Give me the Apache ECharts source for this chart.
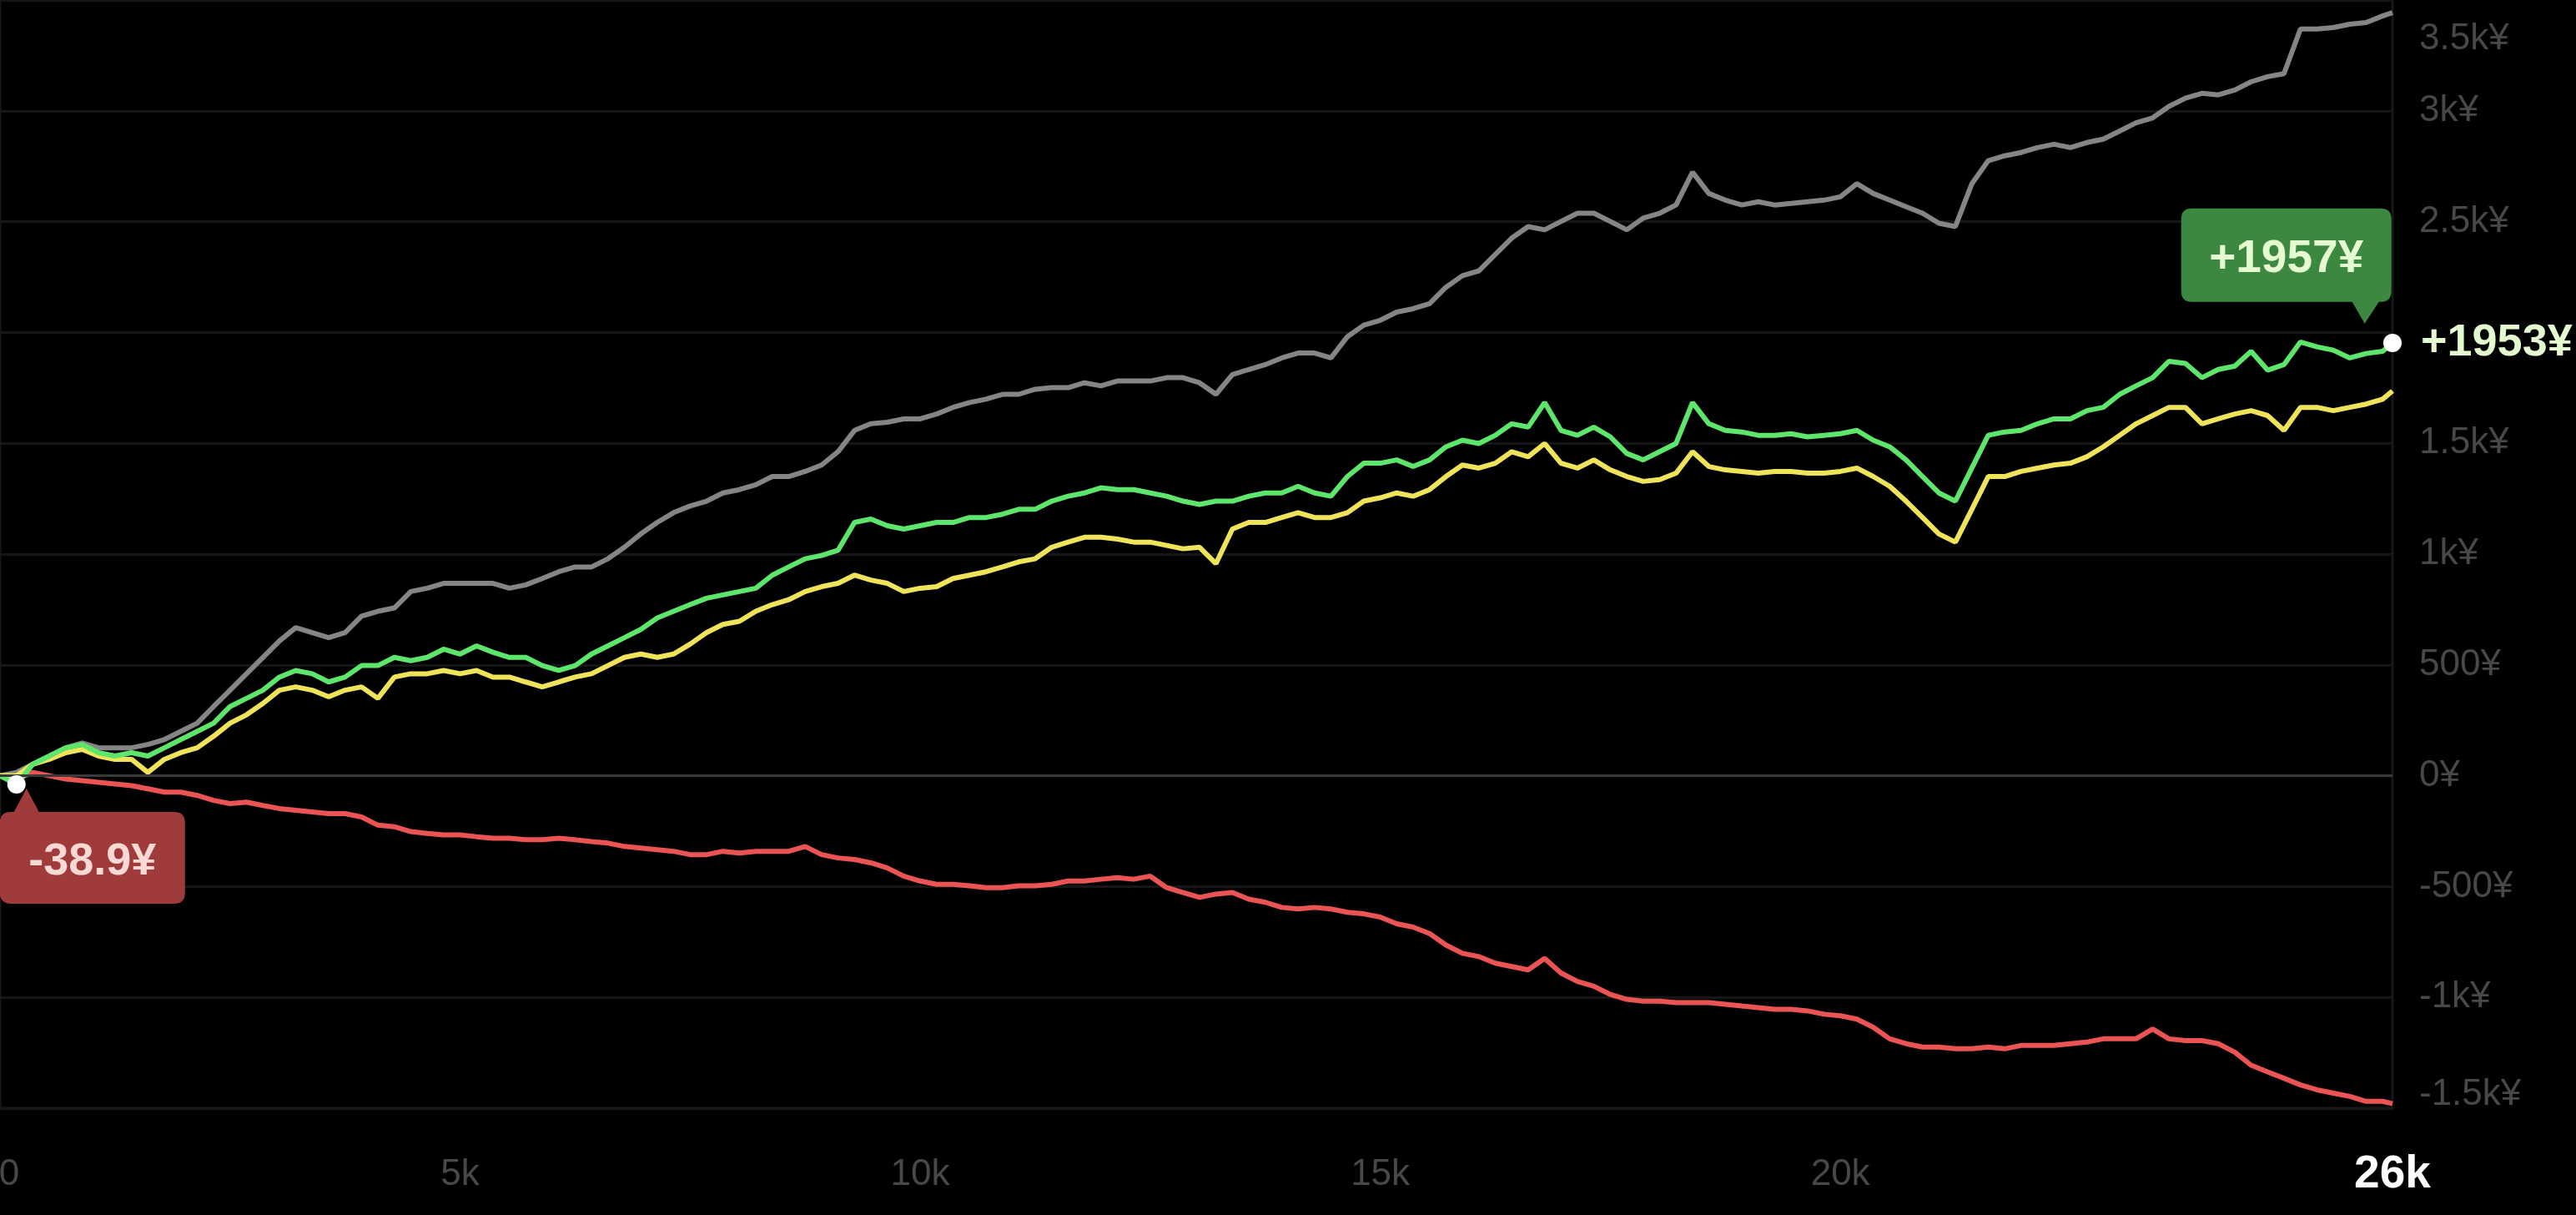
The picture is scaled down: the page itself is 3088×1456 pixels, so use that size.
<!DOCTYPE html>
<html>
<head>
<meta charset="utf-8">
<script src="https://cdn.jsdelivr.net/npm/echarts@6/dist/echarts.min.js"></script>
<style>
html,body{margin:0;padding:0;background:#000;}
#c{width:3088px;height:1456px;}
</style>
</head>
<body>
<div id="c"></div>
<script>
// x positions (trade count)
const xs = [0,179,357,536,714,893,1071,1250,1429,1607,1786,1964,2143,2321,2500,2679,2857,3036,3214,3393,3571,3750,3929,4107,4286,4464,4643,4821,
5000,5179,5357,5536,5714,5893,6071,6250,6429,6607,6786,6964,7143,7321,7500,7679,7857,8036,8214,8393,8571,8750,8929,9107,9286,9464,9643,9821,
10000,10179,10357,10536,10714,10893,11071,11250,11429,11607,11786,11964,12143,12321,12500,12679,12857,13036,13214,13393,13571,13750,13929,14107,14286,14464,14643,14821,
15000,15179,15357,15536,15714,15893,16071,16250,16429,16607,16786,16964,17143,17321,17500,17679,17857,18036,18214,18393,18571,18750,18929,19107,19286,19464,19643,19821,
20000,20179,20357,20536,20714,20893,21071,21250,21429,21607,21786,21964,22143,22321,22500,22679,22857,23036,23214,23393,23571,23750,23929,24107,24286,24464,24643,24821,
25000,25179,25357,25536,25714,25893,26000];

const grayVals = [0,15,52,89,126,148,126,126,126,141,163,200,237,312,386,460,534,608,668,646,623,646,720,742,757,831,846,868,
868,868,868,846,861,890,920,942,942,979,1031,1091,1143,1187,1217,1239,1276,1291,1313,1350,1350,1373,1402,1462,1558,1588,1595,1610,
1610,1632,1662,1684,1699,1721,1721,1744,1751,1751,1773,1759,1781,1781,1781,1796,1796,1773,1721,1810,1833,1855,1885,1907,1907,1885,1981,2033,
2055,2092,2107,2130,2204,2256,2278,2352,2426,2478,2463,2501,2538,2538,2501,2463,2516,2538,2575,2723,2627,2597,2575,2590,2575,2582,2590,2597,
2612,2671,2627,2597,2567,2538,2493,2478,2671,2775,2797,2812,2834,2849,2834,2857,2872,2909,2946,2968,3020,3057,3079,3072,3094,3131,3154,3168,
3369,3369,3376,3391,3398,3428,3443];

const greenVals = [0,-38.9,52,89,126,141,104,89,104,89,126,163,200,237,312,349,386,445,475,460,423,445,497,497,534,519,534,571,
549,586,557,534,534,497,475,497,549,586,623,660,712,742,772,801,816,831,846,905,942,979,994,1017,1143,1158,1128,1113,
1128,1143,1143,1165,1165,1180,1202,1202,1239,1261,1276,1299,1291,1291,1276,1261,1239,1224,1239,1239,1261,1276,1276,1306,1276,1261,1350,1410,
1410,1425,1395,1425,1484,1514,1499,1536,1588,1573,1684,1558,1536,1573,1529,1454,1425,1462,1499,1684,1588,1558,1551,1536,1536,1543,1529,1536,
1543,1558,1514,1484,1425,1350,1276,1239,1388,1536,1551,1558,1588,1610,1610,1647,1662,1721,1759,1796,1870,1860,1796,1833,1848,1915,1830,1855,
1957,1935,1920,1885,1905,1915,1953];

const yellowVals = [0,0,52,74,104,119,89,74,74,15,74,104,126,178,237,275,326,386,401,386,356,386,401,349,445,460,460,475,
460,475,445,445,423,401,423,445,460,497,534,549,534,549,594,646,683,697,742,772,794,831,853,868,905,883,868,831,
846,853,890,905,920,942,965,979,1031,1054,1076,1076,1068,1054,1054,1039,1024,1031,957,1113,1143,1143,1165,1187,1165,1165,1187,1239,
1254,1276,1261,1291,1350,1402,1388,1410,1462,1439,1499,1410,1388,1425,1380,1350,1328,1336,1365,1462,1395,1380,1373,1365,1373,1373,1365,1365,
1373,1388,1350,1306,1239,1165,1091,1054,1202,1350,1350,1373,1388,1402,1410,1439,1484,1536,1588,1625,1662,1662,1588,1610,1632,1647,1625,1558,
1662,1662,1647,1662,1677,1699,1736];

const redVals = [0,-15,15,0,-15,-22,-30,-37,-45,-59,-74,-74,-89,-111,-126,-119,-134,-148,-156,-163,-171,-171,-186,-223,-230,-252,-260,-267,
-267,-275,-282,-282,-289,-289,-282,-289,-297,-304,-319,-326,-334,-341,-356,-356,-341,-349,-341,-341,-341,-319,-356,-371,-378,-393,-416,-453,
-475,-490,-490,-497,-505,-505,-497,-497,-490,-475,-475,-467,-460,-467,-453,-505,-527,-549,-534,-527,-557,-571,-594,-601,-594,-601,-616,-623,
-638,-668,-683,-712,-764,-801,-816,-846,-861,-876,-824,-890,-928,-950,-987,-1009,-1017,-1017,-1024,-1024,-1024,-1031,-1039,-1046,-1054,-1054,-1061,-1076,
-1083,-1098,-1135,-1187,-1209,-1224,-1224,-1232,-1232,-1224,-1232,-1217,-1217,-1217,-1209,-1202,-1187,-1187,-1187,-1143,-1187,-1195,-1195,-1209,-1247,-1306,-1336,-1365,
-1395,-1417,-1432,-1447,-1469,-1469,-1480];

const xTicks = [0, 5000, 10000, 15000, 20000, 26000];
const yMin = -1500, yMax = 3500, yStep = 500;

const FONT = '"Liberation Sans", Arial, Helvetica, sans-serif';
const pair = (vals) => xs.map((x, i) => [x, vals[i]]);

function fmtK(v) {
  if (v === 0) return '0';
  if (Math.abs(v) >= 1000) return (v / 1000) + 'k';
  return String(v);
}

const lastX = xs[xs.length - 1];
const lastGreen = greenVals[greenVals.length - 1];

const GREEN_BUBBLE = 'path://M13,0 H239 Q252,0 252,13 V99 Q252,112 239,112 H237 L220,138 L205,112 H13 Q0,112 0,99 V13 Q0,0 13,0 Z';
const RED_BUBBLE = 'path://M13,28 H17 L32,0 L47,28 H209 Q222,28 222,41 V125 Q222,138 209,138 H13 Q0,138 0,125 V41 Q0,28 13,28 Z';

const LW = 6;
const chart = echarts.init(document.getElementById('c'), null, {renderer: 'canvas'});
chart.setOption({
  backgroundColor: '#000',
  animation: false,
  textStyle: {fontFamily: FONT},
  grid: {left: 0, right: 220, top: 0, bottom: 128, show: true, borderColor: '#181818', borderWidth: 3, outerBoundsMode: 'none'},
  xAxis: {
    type: 'value', min: 0, max: 26000, interval: 5000,
    axisLine: {show: false}, axisTick: {show: false}, splitLine: {show: false},
    axisLabel: {
      show: true, showMinLabel: true, showMaxLabel: true, hideOverlap: false,
      margin: 58, color: '#484848', fontSize: 44, fontFamily: FONT,
      formatter: function (v) {
        if (xTicks.indexOf(v) < 0) return '';
        if (v === 0) return '{z|0}';
        if (v === lastX) return '{m|' + fmtK(v) + '}';
        return fmtK(v);
      },
      rich: {
        z: {padding: [0, 0, 0, 22], color: '#484848', fontSize: 44, fontFamily: FONT},
        m: {color: '#ffffff', fontSize: 55, fontWeight: 'bold', lineHeight: 44, fontFamily: FONT}
      }
    }
  },
  yAxis: {
    type: 'value', position: 'right', min: yMin, max: yMax, interval: yStep,
    axisLine: {show: false}, axisTick: {show: false},
    splitLine: {show: true, lineStyle: {color: '#161616', width: 3}},
    axisLabel: {
      show: true, showMinLabel: true, showMaxLabel: true, hideOverlap: false,
      margin: 32, color: '#484848', fontSize: 44, fontFamily: FONT,
      formatter: function (v) {
        if (v === 2000) return '';
        const s = fmtK(v) + '¥';
        if (v === yMax) return '{t|' + s + '}';
        if (v === yMin) return '{b|' + s + '}';
        return s;
      },
      rich: {
        t: {padding: [94, 0, 0, 0], color: '#484848', fontSize: 44, fontFamily: FONT},
        b: {padding: [0, 0, 32, 0], color: '#484848', fontSize: 44, fontFamily: FONT}
      }
    }
  },
  series: [
    {
      type: 'line', data: [], z: 1, silent: true,
      markLine: {
        silent: true, symbol: 'none', label: {show: false},
        lineStyle: {color: '#3a3a3a', width: 3, type: 'solid'},
        data: [{yAxis: 0}]
      }
    },
    {name: 'gray', type: 'line', data: pair(grayVals), showSymbol: false, z: 2,
      lineStyle: {color: '#858585', width: LW}, itemStyle: {color: '#858585'}},
    {name: 'red', type: 'line', data: pair(redVals), showSymbol: false, z: 2,
      lineStyle: {color: '#eb5454', width: LW}, itemStyle: {color: '#eb5454'}},
    {name: 'yellow', type: 'line', data: pair(yellowVals), showSymbol: false, z: 3,
      lineStyle: {color: '#efe35a', width: LW}, itemStyle: {color: '#efe35a'}},
    {name: 'green', type: 'line', data: pair(greenVals), showSymbol: false, z: 4,
      lineStyle: {color: '#5ee56b', width: LW}, itemStyle: {color: '#5ee56b'},
      endLabel: {
        show: true, distance: 34, color: '#e4f9d0', fontSize: 54, fontWeight: 'bold', fontFamily: FONT,
        formatter: function () { return '+' + Math.round(lastGreen) + '¥'; }
      },
      markPoint: {
        silent: true,
        data: [
          {type: 'max', symbol: GREEN_BUBBLE, symbolSize: [252, 138], symbolOffset: [-17, -91],
            itemStyle: {color: '#3d8840'},
            label: {show: true, position: 'inside', offset: [0, -8], color: '#e6fbd2', fontSize: 55, fontWeight: 'bold', fontFamily: FONT,
              formatter: function (p) { return '+' + Math.round(p.value) + '¥'; }}},
          {type: 'min', symbol: RED_BUBBLE, symbolSize: [222, 138], symbolOffset: [91, 74],
            itemStyle: {color: '#9f3b3b'},
            label: {show: true, position: 'inside', offset: [0, 19], color: '#f8d9d5', fontSize: 54, fontWeight: 'bold', fontFamily: FONT,
              formatter: function (p) { return p.value + '¥'; }}},
          {type: 'min', symbol: 'circle', symbolSize: 22, itemStyle: {color: '#ffffff'}, label: {show: false}},
          {coord: [lastX, lastGreen], symbol: 'circle', symbolSize: 22, itemStyle: {color: '#ffffff'}, label: {show: false}}
        ]
      }
    }
  ]
});
</script>
</body>
</html>
